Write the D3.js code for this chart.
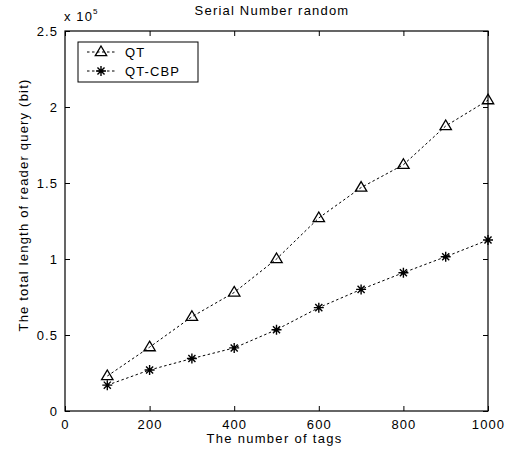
<!DOCTYPE html>
<html><head><meta charset="utf-8">
<script src="https://cdn.jsdelivr.net/npm/d3@7"></script>
<style>body{margin:0;background:#fff}svg{display:block}text{font-family:"Liberation Sans",Arial,sans-serif;fill:#000}</style>
</head><body>
<script>
const tags = [100,200,300,400,500,600,700,800,900,1000];
const qt = [0.23,0.42,0.62,0.78,1.0,1.27,1.47,1.62,1.875,2.045];
const qtcbp = [0.17,0.27,0.345,0.415,0.535,0.68,0.80,0.91,1.015,1.125];
const xTicks = [0,200,400,600,800,1000];
const yTicks = [0,0.5,1,1.5,2,2.5];
const seriesNames = ["QT","QT-CBP"];

const W=511,H=449;
const m={l:65,r:23,t:31,b:38};
const svg=d3.select("body").append("svg").attr("width",W).attr("height",H);
const x=d3.scaleLinear().domain([0,1000]).range([m.l,W-m.r]);
const y=d3.scaleLinear().domain([0,2.5]).range([H-m.b,m.t]);
const g=svg.append("g");
const FS=13, LS="1.1px";

g.append("rect").attr("x",x(0)).attr("y",y(2.5)).attr("width",x(1000)-x(0)).attr("height",y(0)-y(2.5))
 .attr("fill","none").attr("stroke","#000").attr("stroke-width",1.2);

const tl=5;
const xb=g.append("g").attr("transform",`translate(0,${y(0)})`).call(d3.axisBottom(x).tickValues(xTicks).tickSizeInner(-tl).tickSizeOuter(0).tickPadding(9).tickFormat(d3.format("d")));
const xt=g.append("g").attr("transform",`translate(0,${y(2.5)})`).call(d3.axisTop(x).tickValues(xTicks).tickSizeInner(-tl).tickSizeOuter(0).tickFormat(""));
const yl=g.append("g").attr("transform",`translate(${x(0)},0)`).call(d3.axisLeft(y).tickValues(yTicks).tickSizeInner(-tl).tickSizeOuter(0).tickPadding(7).tickFormat(d=>String(d)));
const yr=g.append("g").attr("transform",`translate(${x(1000)},0)`).call(d3.axisRight(y).tickValues(yTicks).tickSizeInner(-tl).tickSizeOuter(0).tickFormat(""));
[xb,xt,yl,yr].forEach(a=>{a.select(".domain").remove();a.selectAll("line").attr("stroke","#000");a.selectAll("text").attr("font-size",FS).attr("letter-spacing",LS).attr("font-family","Liberation Sans, Arial, sans-serif");});

const line=d3.line().x((d,i)=>x(tags[i])).y(d=>y(d));
[qt,qtcbp].forEach(s=>{
  g.append("path").datum(s).attr("d",line).attr("fill","none").attr("stroke","#000").attr("stroke-width",1).attr("stroke-dasharray","2.5,2.5");
});
function tri(sel,cx,cy){
  const r=6;
  sel.append("path").attr("d",`M${cx},${cy-r}L${cx+r*0.95},${cy+r*0.6}L${cx-r*0.95},${cy+r*0.6}Z`).attr("fill","none").attr("stroke","#000").attr("stroke-width",1.3);
}
function star(sel,cx,cy){
  const r=5;
  let d="";
  [0,45,90,135].forEach(a=>{const c=Math.cos(a*Math.PI/180)*r,s=Math.sin(a*Math.PI/180)*r;d+=`M${cx-c},${cy-s}L${cx+c},${cy+s}`;});
  sel.append("path").attr("d",d).attr("stroke","#000").attr("stroke-width",1.4);
}
qt.forEach((v,i)=>tri(g,x(tags[i]),y(v)));
qtcbp.forEach((v,i)=>star(g,x(tags[i]),y(v)));

const lg=g.append("g");
lg.append("rect").attr("x",78).attr("y",42).attr("width",120).attr("height",40).attr("fill","#fff").attr("stroke","#000").attr("stroke-width",1);
[0,1].forEach(i=>{
  const ly=52+i*19;
  lg.append("line").attr("x1",87).attr("x2",116).attr("y1",ly).attr("y2",ly).attr("stroke","#000").attr("stroke-dasharray","2.5,2.5");
  if(i===0) tri(lg,101,ly); else star(lg,101,ly);
  lg.append("text").attr("x",125).attr("y",ly+4.5).attr("font-size",FS).attr("letter-spacing",LS).text(seriesNames[i]);
});

svg.append("text").attr("x",272).attr("y",15).attr("text-anchor","middle").attr("font-size",FS).attr("letter-spacing","1.2px").text("Serial Number random");
const ex=svg.append("text").attr("x",64).attr("y",21).attr("font-size",FS).attr("letter-spacing",LS);
ex.append("tspan").text("x 10");
ex.append("tspan").attr("dy",-7).attr("font-size",8).text("5");
svg.append("text").attr("x",x(500)-2).attr("y",443).attr("text-anchor","middle").attr("font-size",FS).attr("letter-spacing","1.3px").text("The number of tags");
svg.append("text").attr("transform",`translate(28,205) rotate(-90)`).attr("text-anchor","middle").attr("font-size",FS).attr("letter-spacing","1.2px").text("The total length of reader query (bit)");
</script>
</body></html>
